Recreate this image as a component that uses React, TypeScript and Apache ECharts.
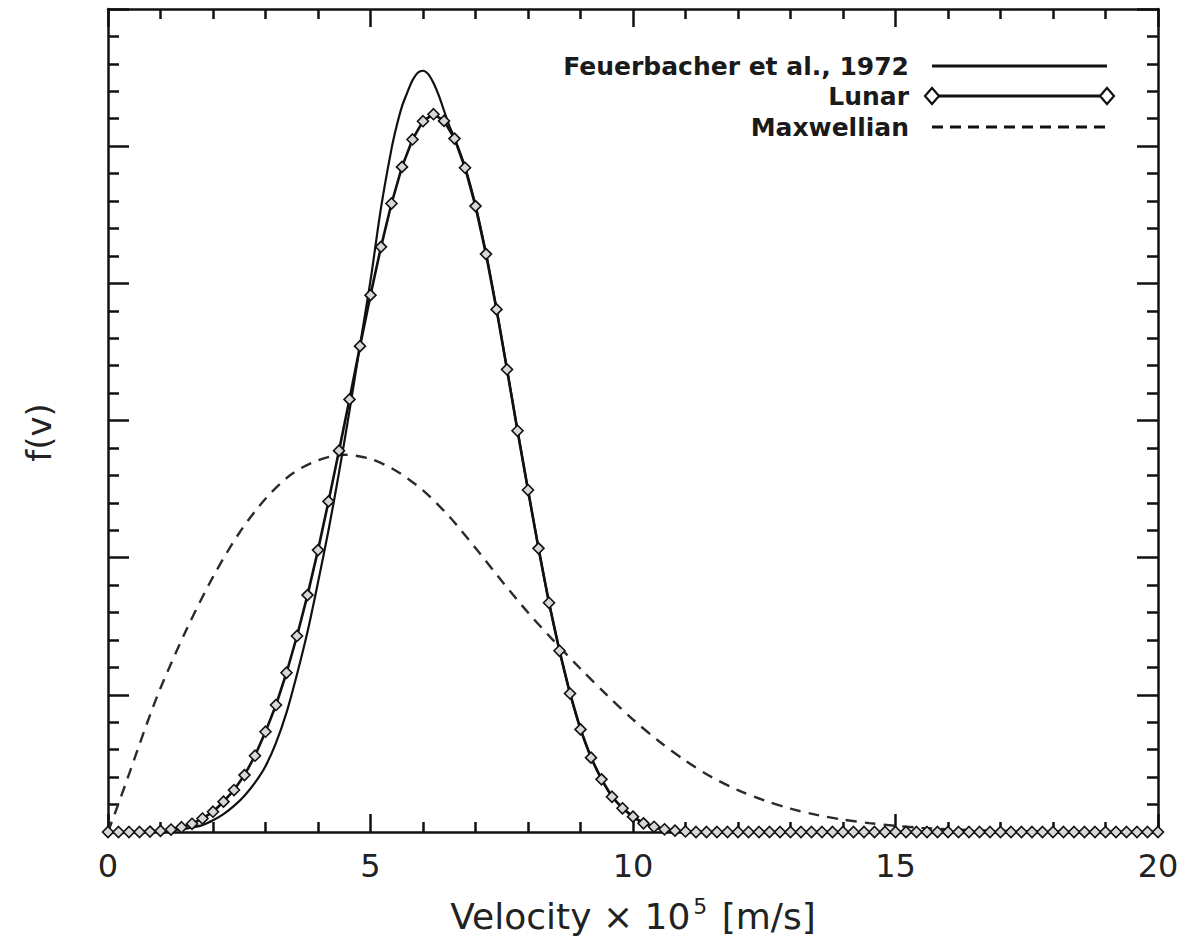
import React, { useEffect, useRef } from "react";
import * as echarts from "echarts";

const FONT = '"DejaVu Sans", "Liberation Sans", sans-serif';
const INK = "#111";

// x tick labels
const xTicks = [0, 5, 10, 15, 20];

// Lunar (diamond markers), velocity x 10^5 m/s
const lunarV = [
  0, 0.2, 0.4, 0.6, 0.8, 1.0, 1.2, 1.4, 1.6, 1.8, 2.0, 2.2, 2.4, 2.6, 2.8, 3.0,
  3.2, 3.4, 3.6, 3.8, 4.0, 4.2, 4.4, 4.6, 4.8, 5.0, 5.2, 5.4, 5.6, 5.8, 6.0, 6.2,
  6.4, 6.6, 6.8, 7.0, 7.2, 7.4, 7.6, 7.8, 8.0, 8.2, 8.4, 8.6, 8.8, 9.0, 9.2, 9.4,
  9.6, 9.8, 10.0, 10.2, 10.4, 10.6, 10.8, 11.0, 11.2, 11.4, 11.6, 11.8, 12.0,
  12.2, 12.4, 12.6, 12.8, 13.0, 13.2, 13.4, 13.6, 13.8, 14.0, 14.2, 14.4, 14.6,
  14.8, 15.0, 15.2, 15.4, 15.6, 15.8, 16.0, 16.2, 16.4, 16.6, 16.8, 17.0, 17.2,
  17.4, 17.6, 17.8, 18.0, 18.2, 18.4, 18.6, 18.8, 19.0, 19.2, 19.4, 19.6, 19.8,
  20.0,
];
const lunarF = [
  0, 0, 0, 0, 0.003, 0.008, 0.018, 0.035, 0.06, 0.098, 0.148, 0.221, 0.306,
  0.415, 0.556, 0.731, 0.926, 1.161, 1.429, 1.727, 2.055, 2.41, 2.78, 3.154,
  3.542, 3.914, 4.266, 4.582, 4.849, 5.049, 5.182, 5.233, 5.184, 5.055, 4.843,
  4.563, 4.213, 3.81, 3.372, 2.925, 2.493, 2.068, 1.671, 1.321, 1.01, 0.748,
  0.542, 0.384, 0.257, 0.173, 0.112, 0.063, 0.038, 0.02, 0.01, 0.004, 0, 0, 0, 0,
  0, 0, 0, 0, 0, 0, 0, 0, 0, 0, 0, 0, 0, 0, 0, 0, 0, 0, 0, 0, 0, 0, 0, 0, 0, 0, 0,
  0, 0, 0, 0, 0, 0, 0, 0, 0, 0, 0, 0, 0, 0,
];

// Feuerbacher et al., 1972 (solid)
const feuV = [
  0, 0.5, 1.0, 1.2, 1.4, 1.6, 1.8, 2.0, 2.2, 2.4, 2.6, 2.8, 3.0, 3.2, 3.4, 3.6,
  3.8, 4.0, 4.2, 4.4, 4.6, 4.8, 5.0, 5.2, 5.4, 5.5, 5.6, 5.7, 5.8, 5.9, 6.0, 6.1,
  6.2, 6.3, 6.4, 6.5, 6.6, 6.8, 7.0, 7.2, 7.4, 7.6, 7.8, 8.0, 8.2, 8.4, 8.6, 8.8,
  9.0, 9.2, 9.4, 9.6, 9.8, 10.0, 10.2, 10.4, 10.6, 10.8, 11.0, 12.0, 20.0,
];
const feuF = [
  0, 0, 0.004, 0.01, 0.02, 0.033, 0.05, 0.085, 0.13, 0.19, 0.265, 0.36, 0.48,
  0.65, 0.87, 1.15, 1.46, 1.82, 2.2, 2.62, 3.07, 3.55, 4.02, 4.55, 4.98, 5.15,
  5.29, 5.39, 5.48, 5.535, 5.55, 5.525, 5.46, 5.37, 5.26, 5.15, 5.06, 4.85, 4.57,
  4.22, 3.815, 3.375, 2.93, 2.495, 2.07, 1.672, 1.322, 1.012, 0.75, 0.544, 0.386,
  0.259, 0.175, 0.113, 0.064, 0.039, 0.021, 0.011, 0.005, 0, 0,
];

// Maxwellian (dashed)
const maxV = [
  0, 0.25, 0.5, 0.75, 1, 1.5, 2, 2.5, 3, 3.5, 4, 4.5, 5, 5.5, 6, 6.5, 7, 7.5, 8,
  8.5, 9, 9.5, 10, 10.5, 11, 11.5, 12, 12.5, 13, 13.5, 14, 14.5, 15, 15.5, 16, 17,
  18, 19, 20,
];
const maxF = [
  0, 0.26, 0.53, 0.8, 1.05, 1.48, 1.86, 2.18, 2.43, 2.61, 2.71, 2.75, 2.72, 2.63,
  2.49, 2.3, 2.07, 1.83, 1.6, 1.39, 1.19, 1.0, 0.82, 0.66, 0.52, 0.4, 0.305, 0.23,
  0.17, 0.125, 0.09, 0.065, 0.045, 0.03, 0.02, 0.008, 0.003, 0.001, 0,
];

const seriesNames = ["Feuerbacher et al., 1972", "Lunar", "Maxwellian"];

const zip = (xs: number[], ys: number[]) => xs.map((x, i) => [x, ys[i]]);

export default function App() {
  const ref = useRef<HTMLDivElement>(null);

  useEffect(() => {
    const chart = echarts.init(ref.current!, null, { renderer: "svg" });

    const tickLine = { color: INK, width: 2.5 };
    const xBase = {
      type: "value",
      min: xTicks[0],
      max: xTicks[xTicks.length - 1],
      interval: 5,
      axisLine: { show: true, onZero: false, lineStyle: tickLine },
      axisTick: { show: true, inside: true, length: 18, lineStyle: tickLine },
      minorTick: { show: true, splitNumber: 5, length: 10, lineStyle: tickLine },
      splitLine: { show: false },
      minorSplitLine: { show: false },
    };
    const yBase = {
      type: "value",
      min: 0,
      max: 6,
      interval: 1,
      axisLine: { show: true, onZero: false, lineStyle: tickLine },
      axisTick: { show: true, inside: true, length: 21, lineStyle: tickLine },
      minorTick: { show: true, splitNumber: 5, length: 11, lineStyle: tickLine },
      splitLine: { show: false },
      minorSplitLine: { show: false },
      axisLabel: { show: false },
    };

    const legendY = [66, 96, 127];
    const textX = 909;
    const lineX0 = 932;
    const lineX1 = 1107;
    const legendFont = {
      fontFamily: FONT,
      fontSize: 25,
      fontWeight: "bold" as const,
      fill: "#1a1a1a",
      align: "right" as const,
      verticalAlign: "middle" as const,
    };
    const diamond = (cx: number, cy: number) => ({
      type: "polygon",
      shape: {
        points: [
          [cx - 7, cy],
          [cx, cy - 8],
          [cx + 7, cy],
          [cx, cy + 8],
        ],
      },
      style: { fill: "#fff", stroke: INK, lineWidth: 2.2 },
      z: 20,
    });

    chart.setOption({
      animation: false,
      backgroundColor: "#fff",
      grid: { left: 108, right: 26, top: 9, bottom: 117, containLabel: false },
      xAxis: [
        {
          ...xBase,
          position: "bottom",
          axisLabel: {
            show: true,
            margin: 18,
            fontFamily: FONT,
            fontSize: 32,
            color: "#222",
            formatter: (v: number) => String(v),
          },
          name: "{a|Velocity × 10}{s|5}{a| [m/s]}",
          nameLocation: "middle",
          nameGap: 63,
          nameTextStyle: {
            rich: {
              a: { fontFamily: FONT, fontSize: 36, color: "#222", lineHeight: 42 },
              s: {
                fontFamily: FONT,
                fontSize: 22,
                color: "#222",
                verticalAlign: "top",
                lineHeight: 42,
                padding: [0, 3, 0, 3],
              },
            },
          },
        },
        { ...xBase, position: "top", axisLabel: { show: false } },
      ],
      yAxis: [
        {
          ...yBase,
          position: "left",
          name: "f(v)",
          nameLocation: "middle",
          nameRotate: 90,
          nameGap: 52,
          nameTextStyle: {
            fontFamily: FONT,
            fontSize: 34,
            color: "#222",
            padding: [0, 24, 0, 0],
          },
        },
        { ...yBase, position: "right" },
      ],
      series: [
        {
          name: seriesNames[2],
          type: "line",
          data: zip(maxV, maxF),
          smooth: 0.3,
          showSymbol: false,
          symbol: "none",
          lineStyle: { color: "#2a2a2a", width: 2.4, type: [11, 8] },
          z: 2,
        },
        {
          name: seriesNames[0],
          type: "line",
          data: zip(feuV, feuF),
          smooth: 0.3,
          showSymbol: false,
          symbol: "none",
          lineStyle: { color: INK, width: 2.2 },
          z: 3,
        },
        {
          name: seriesNames[1],
          type: "line",
          data: zip(lunarV, lunarF),
          smooth: false,
          clip: false,
          symbol: "diamond",
          symbolSize: [11, 11],
          showAllSymbol: true,
          itemStyle: { color: "#d8d8d8", borderColor: INK, borderWidth: 1.6 },
          lineStyle: { color: INK, width: 2.6 },
          z: 4,
        },
      ],
      graphic: [
        { type: "text", x: textX, y: legendY[0], style: { ...legendFont, text: seriesNames[0] }, z: 20 },
        { type: "text", x: textX, y: legendY[1], style: { ...legendFont, text: seriesNames[1] }, z: 20 },
        { type: "text", x: textX, y: legendY[2], style: { ...legendFont, text: seriesNames[2] }, z: 20 },
        {
          type: "line",
          shape: { x1: lineX0, y1: legendY[0], x2: lineX1, y2: legendY[0] },
          style: { stroke: INK, lineWidth: 2.8 },
          z: 20,
        },
        {
          type: "line",
          shape: { x1: lineX0, y1: legendY[1], x2: lineX1, y2: legendY[1] },
          style: { stroke: INK, lineWidth: 2.8 },
          z: 19,
        },
        diamond(lineX0, legendY[1]),
        diamond(lineX1, legendY[1]),
        {
          type: "line",
          shape: { x1: lineX0, y1: legendY[2], x2: lineX1 - 2, y2: legendY[2] },
          style: { stroke: INK, lineWidth: 2.8, lineDash: [11, 7] },
          z: 20,
        },
      ],
    });

    return () => chart.dispose();
  }, []);

  return (
    <div
      ref={ref}
      style={{ position: "fixed", left: 0, top: 0, width: 1184, height: 949, background: "#fff" }}
    />
  );
}
